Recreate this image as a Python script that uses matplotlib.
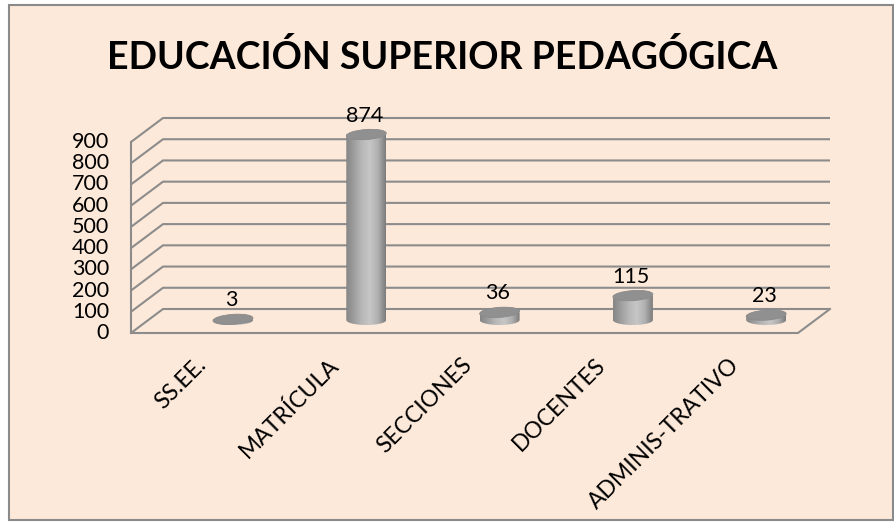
import numpy as np
import matplotlib.pyplot as plt
from matplotlib.patches import Ellipse, Rectangle, PathPatch
from matplotlib.path import Path
from matplotlib.colors import LinearSegmentedColormap

categories = ["SS.EE.", "MATRÍCULA", "SECCIONES", "DOCENTES", "ADMINIS-TRATIVO"]
values = [3, 874, 36, 115, 23]
yticks = [0, 100, 200, 300, 400, 500, 600, 700, 800, 900]
title = "EDUCACIÓN SUPERIOR PEDAGÓGICA"

bg = "#FDE9D9"
grid_c = "#8c8c8c"

# plot geometry in pixels
x_front0, x_front1 = 131, 798
y_zero, y_top = 333, 142
ymax = 900
dx, dy = 32, -24
cyl_x0, cyl_step = 233, 133.3
cyl_w, ell_h = 40, 10
y_base = 320


def ypix(v):
    return y_zero - v / ymax * (y_zero - y_top)


fig = plt.figure(figsize=(8.95, 5.23), dpi=100)
fig.patch.set_facecolor("white")
ax = fig.add_axes([0, 0, 1, 1])
ax.set_xlim(0, 895)
ax.set_ylim(523, 0)
ax.axis("off")

ax.add_patch(Rectangle((9, 5), 884, 515, facecolor=bg, edgecolor="#8a8a8a", lw=1.5))

ax.text(442, 57, title, ha="center", va="center", fontsize=27,
        fontweight="bold", family="Lato")

# gridlines on back wall
for t in yticks:
    yy = ypix(t)
    ax.plot([x_front0, x_front0 + dx, x_front1 + dx], [yy, yy + dy, yy + dy],
            color=grid_c, lw=1.5, solid_capstyle="butt")
    ax.text(x_front0 - 22, yy, str(t), ha="right", va="center", fontsize=15.5,
            family="Lato")
# floor
ax.plot([x_front0, x_front1, x_front1 + dx], [y_zero, y_zero, y_zero + dy],
        color=grid_c, lw=1.5)
ax.plot([x_front0, x_front0], [y_top, y_zero], color=grid_c, lw=1.5)

cmap = LinearSegmentedColormap.from_list(
    "cyl", ["#858585", "#9e9e9e", "#b8b8b8", "#c6c6c6", "#b0b0b0", "#7c7c7c"])
grad = np.linspace(0, 1, 200)[None, :]

for i, (cat, v) in enumerate(zip(categories, values)):
    c = cyl_x0 + i * cyl_step
    yt = ypix(v) - (y_zero - y_base)
    yb = y_base
    hw = cyl_w / 2
    hh = ell_h / 2
    # body path with bottom half-ellipse
    th = np.linspace(np.pi, 0, 40)
    xs = [c - hw] + list(c + hw * np.cos(th)) + [c + hw]
    ys = [yt] + list(yb + hh * np.sin(th)) + [yt]
    verts = list(zip(xs, ys)) + [(c - hw, yt)]
    codes = [Path.MOVETO] + [Path.LINETO] * (len(verts) - 2) + [Path.CLOSEPOLY]
    body = PathPatch(Path(verts, codes), facecolor="none", edgecolor="none")
    ax.add_patch(body)
    im = ax.imshow(grad, cmap=cmap, extent=(c - hw, c + hw, yb + hh + 1, yt),
                   aspect="auto", zorder=3)
    im.set_clip_path(body)
    ax.add_patch(Ellipse((c, yt), cyl_w, ell_h, angle=-4, facecolor="#909090",
                         edgecolor="#8a8a8a", lw=0.6, zorder=4))
    ax.text(c - 2, yt - 19, str(v), ha="center", va="center", fontsize=15.5,
            family="Lato", zorder=5)
    ax.text(c - 38, 354, cat, ha="right", va="top", rotation=45,
            rotation_mode="anchor", fontsize=16.5, family="Lato")

fig.savefig("out.png", dpi=100, facecolor=fig.get_facecolor())
